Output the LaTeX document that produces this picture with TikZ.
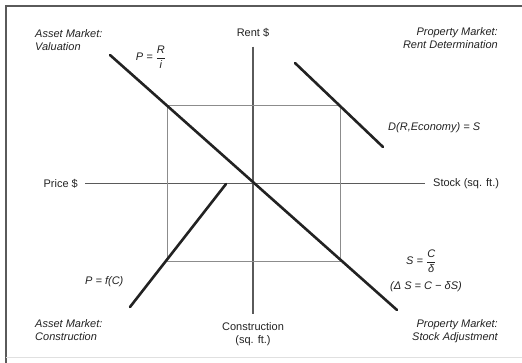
\documentclass[tikz,border=0pt]{standalone}
\usepackage{amsmath}
\usepackage{fontspec}
\setmainfont{Liberation Sans}
\usepackage{tikz}
\usetikzlibrary{positioning}
\definecolor{ink}{HTML}{222222}
\definecolor{rule}{HTML}{5A5A5A}
\definecolor{soft}{HTML}{8C8C8C}

\begin{document}
\begin{tikzpicture}[x=1pt,y=-1pt,font=\fontsize{11}{13}\selectfont,text=ink,
qlab/.style={font=\fontsize{11}{13}\selectfont\itshape,inner sep=0pt},
alab/.style={inner sep=0pt,align=center},
eqn/.style={font=\fontsize{11}{13}\selectfont\itshape,inner sep=0pt},
sched/.style={draw=ink,line width=2.6pt,line cap=round},
axisline/.style={draw=rule,line width=1.1pt},
lagbox/.style={draw=soft,line width=1pt},
rim/.style={draw=rule,line width=1.8pt}]
\useasboundingbox (0,0) rectangle (522,363);
% frame of the scan
\draw[rim] (6,363) -- (6,6) -- (522,6);
\draw[black!12] (6,357) -- (522,357);
% axis labels
\node[alab] (rent) at (253,33) {Rent \$};
\node[alab] (constr) at (253,334) {Construction\\(sq. ft.)};
\node[alab,anchor=east] (price) at (78,183.5) {Price \$};
\node[alab,anchor=west] (stock) at (433,183.5) {Stock (sq. ft.)};
\draw[axisline,shorten <=9pt,shorten >=8pt] (rent.south) -- (constr.north);
\draw[axisline,shorten <=7pt,shorten >=8pt] (price.east) -- (stock.west);
% equilibrium rectangle
\coordinate (rtl) at (167,106);
\coordinate (rbr) at (340,262);
\draw[lagbox] (rtl) rectangle (rbr);
% the four schedules
\coordinate (vtl) at (110,55);
\coordinate (vbr) at (397,310);
\coordinate (dtl) at (295,63);
\coordinate (dbr) at (383,147);
\coordinate (cbl) at (130,307);
\coordinate (ctr) at (226,184);
\draw[sched] (vtl) -- (vbr);
\draw[sched] (dtl) -- (dbr);
\draw[sched] (cbl) -- (ctr);
% quadrant titles
\node[qlab,anchor=north west,align=left] (valu) at (35,29) {Asset Market:\\Valuation};
\node[qlab,anchor=north east,align=right] (rentdet) at (498,27) {Property Market:\\Rent Determination};
\node[qlab,anchor=north west,align=left] (build) at (35,319) {Asset Market:\\Construction};
\node[qlab,anchor=north east,align=right] (stockadj) at (498,319) {Property Market:\\Stock Adjustment};
% equations
\node[eqn] (peq) at (151,57) {P = $\dfrac{\textit{R}}{\textit{i}}$};
\node[eqn,anchor=west] (deq) at (388,128) {D(R,Economy) = S};
\node[eqn,anchor=west] (seq) at (406,261) {S = $\dfrac{\textit{C}}{\textit{δ}}$};
\node[eqn,anchor=west] (dseq) at (390,287) {(Δ S = C − δS)};
\node[eqn,anchor=west] (feq) at (85,282) {P = f(C)};
\end{tikzpicture}
\end{document}
